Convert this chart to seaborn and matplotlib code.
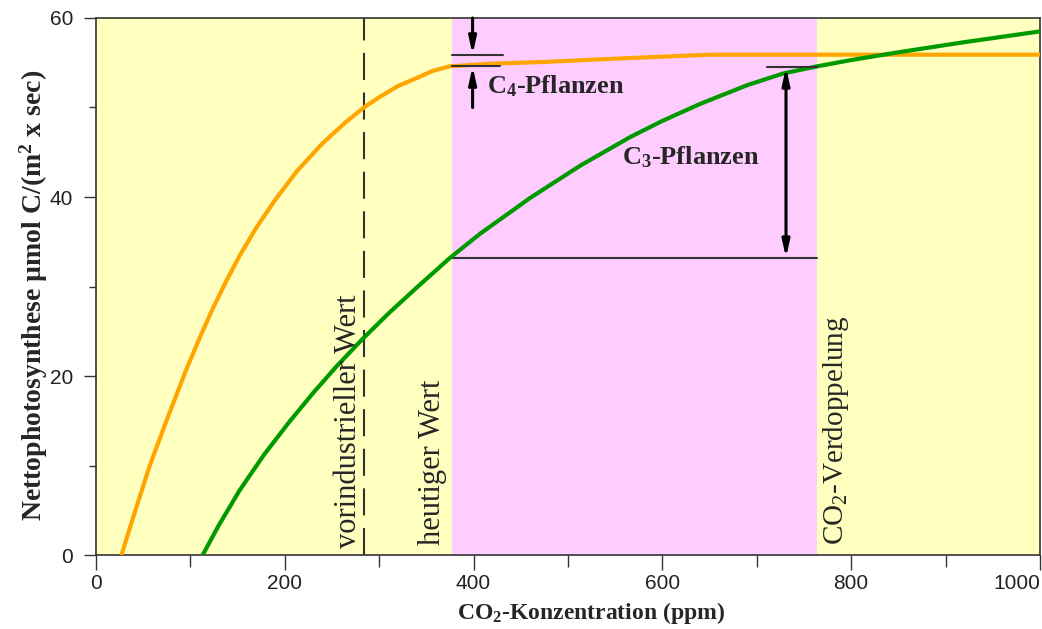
import pandas as pd
import seaborn as sns
import matplotlib.pyplot as plt
from matplotlib.ticker import MultipleLocator

# =========================
# DATEN
# =========================

# C4-Pflanzen (orange)
co2_c4 = [27, 40, 57, 75, 96, 110, 124, 138, 152, 170, 190, 213, 240, 265, 285, 301, 320, 340, 357, 375,
          420, 477, 560, 650, 760, 880, 1000]
netto_c4 = [0, 4.4, 10.0, 15.1, 20.8, 24.3, 27.6, 30.6, 33.4, 36.6, 39.7, 42.9, 46.0, 48.4, 50.1, 51.2, 52.4, 53.3, 54.1, 54.6,
            54.9, 55.1, 55.5, 55.9, 55.9, 55.9, 55.9]

# C3-Pflanzen (gruen)
co2_c3 = [113, 130, 152, 178, 205, 230, 255, 283, 311, 340, 375, 407, 460, 513, 566, 600, 640, 690, 728, 764,
          800, 852, 920, 1000]
netto_c3 = [0, 3.3, 7.2, 11.2, 14.9, 18.1, 21.1, 24.2, 27.1, 29.9, 33.2, 35.9, 39.9, 43.5, 46.7, 48.5, 50.4, 52.5, 53.8, 54.6,
            55.3, 56.2, 57.3, 58.5]

# Markierte CO2-Werte (ppm)
co2_vorindustriell = 284
co2_heute = 377
co2_verdopplung = 764

# Zuwachs bei Verdopplung
c3_heute, c3_doppel = 33.2, 54.5
c4_heute, c4_doppel = 54.6, 55.9

df = pd.concat([
    pd.DataFrame({'co2': co2_c4, 'netto': netto_c4, 'typ': 'C4'}),
    pd.DataFrame({'co2': co2_c3, 'netto': netto_c3, 'typ': 'C3'}),
], ignore_index=True)

# =========================
# PLOT
# =========================

sns.set_style('ticks')
plt.rcParams['font.family'] = ['Liberation Serif', 'DejaVu Serif']

fig, ax = plt.subplots(figsize=(10.42, 6.29), dpi=100)
fig.subplots_adjust(left=0.0921, right=0.998, bottom=0.1176, top=0.9714)

ax.set_facecolor('#ffffc0')
ax.axvspan(co2_heute, co2_verdopplung, color='#ffccff', zorder=0, lw=0)

sns.lineplot(data=df, x='co2', y='netto', hue='typ', palette={'C4': '#ffa500', 'C3': '#009a00'},
             estimator=None, sort=False, lw=3, legend=False, ax=ax, zorder=3)

# vorindustrieller Wert (gestrichelt)
ax.plot([co2_vorindustriell, co2_vorindustriell], [0, 60], color='#333333', lw=1.5,
        dashes=(13, 6), zorder=2)

# C3 Zuwachs
pfeil = dict(color='black', lw=2.2, shrinkA=0, shrinkB=0)
ax.plot([co2_heute, co2_verdopplung], [c3_heute, c3_heute], color='#333333', lw=1.5, zorder=2)
ax.plot([711, co2_verdopplung], [c3_doppel, c3_doppel], color='#333333', lw=1.5, zorder=4)
ax.annotate('', xy=(731, c3_doppel), xytext=(731, c3_heute),
            arrowprops=dict(arrowstyle='<|-|>,head_length=1.0,head_width=0.22', **pfeil), zorder=5)

# C4 Zuwachs
ax.plot([co2_heute, 431], [c4_doppel, c4_doppel], color='#333333', lw=1.5, zorder=4)
ax.plot([co2_heute, 428], [c4_heute, c4_heute], color='#333333', lw=1.5, zorder=4)
ax.annotate('', xy=(399, c4_doppel), xytext=(399, 60),
            arrowprops=dict(arrowstyle='-|>,head_length=1.0,head_width=0.22', **pfeil), zorder=5)
ax.annotate('', xy=(399, c4_heute), xytext=(399, 50.0),
            arrowprops=dict(arrowstyle='-|>,head_length=1.0,head_width=0.22', **pfeil), zorder=5)

# Beschriftungen
ax.text(414, 51.6, r'C$\mathregular{_4}$-Pflanzen', fontsize=19, fontweight='bold', va='baseline', zorder=6)
ax.text(557, 43.6, r'C$\mathregular{_3}$-Pflanzen', fontsize=19, fontweight='bold', va='baseline', zorder=6)
ax.text(267, 0.8, 'vorindustrieller Wert', fontsize=22, rotation=90, ha='center', va='bottom', zorder=6)
ax.text(357, 1.1, 'heutiger Wert', fontsize=22, rotation=90, ha='center', va='bottom', zorder=6)
ax.text(784, 1.1, r'CO$\mathregular{_2}$-Verdoppelung', fontsize=21, rotation=90, ha='center', va='bottom', zorder=6)

# Achsen
ax.set_xlim(0, 1000)
ax.set_ylim(0, 60)
ax.set_xticks([0, 200, 400, 600, 800, 1000])
ax.xaxis.set_minor_locator(MultipleLocator(100))
ax.set_yticks([0, 20, 40, 60])
ax.yaxis.set_minor_locator(MultipleLocator(10))

ax.tick_params(axis='x', which='major', length=11, width=1, direction='out', pad=3, colors='#333333',
               labelsize=15, labelcolor='#222222', labelfontfamily='Liberation Sans')
ax.tick_params(axis='x', which='minor', length=8.5, width=1, direction='out', colors='#333333')
ax.tick_params(axis='y', which='major', length=8.5, width=1, direction='out', pad=8, colors='#333333',
               labelsize=15, labelcolor='#222222', labelfontfamily='Liberation Sans')
ax.tick_params(axis='y', which='minor', length=5, width=1, direction='out', colors='#333333')

for s in ax.spines.values():
    s.set_visible(True)
    s.set_color('#333333')
    s.set_linewidth(1.2)

ax.set_xlabel(r'CO$\mathregular{_2}$-Konzentration (ppm)', fontsize=17, fontweight='bold')
ax.set_ylabel(r'Nettophotosynthese µmol C/(m$\mathregular{^2}$ x sec)', fontsize=20, fontweight='bold')
ax.xaxis.set_label_coords(0.524, -0.084)
ax.yaxis.set_label_coords(-0.049, 0.484)

# letzte Beschriftung rechtsbuendig, damit sie nicht abgeschnitten wird
fig.canvas.draw()
for tick in ax.xaxis.get_major_ticks():
    if tick.get_loc() == 1000:
        tick.label1.set_horizontalalignment('right')

plt.savefig('out.png', dpi=100)
